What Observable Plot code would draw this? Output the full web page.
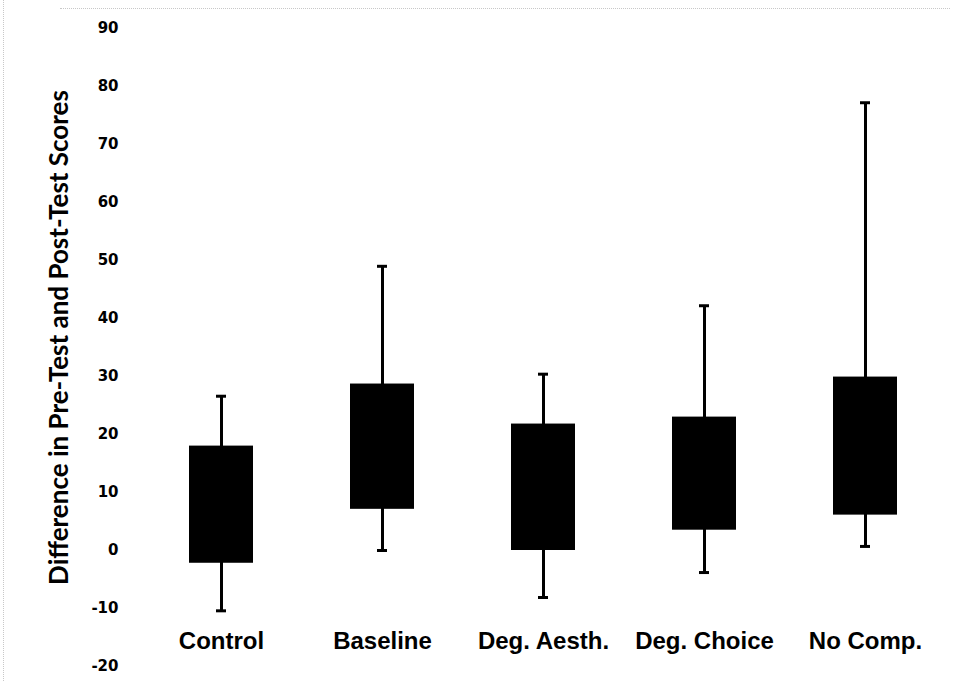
<!DOCTYPE html>
<html>
<head>
<meta charset="utf-8">
<script src="https://cdn.jsdelivr.net/npm/d3@7"></script>
<script src="https://cdn.jsdelivr.net/npm/@observablehq/plot@0.6"></script>
<style>
  html, body { margin: 0; padding: 0; background: #fff; }
  #wrap { position: relative; width: 960px; height: 681px; overflow: hidden; }
  #topline { position: absolute; left: 60px; top: 8px; width: 890px; border-top: 1px dotted #c8c8c8; }
  #leftline { position: absolute; left: 3px; top: 0; height: 681px; border-left: 1px dotted #c8c8c8; }
</style>
</head>
<body>
<div id="wrap"><div id="topline"></div><div id="leftline"></div></div>
<script>
const groups = ["Control", "Baseline", "Deg. Aesth.", "Deg. Choice", "No Comp."];
const whiskerLow = [-10.4, 0.0, -8.1, -3.8, 0.7];
const boxLow = [-2.2, 7.1, 0.0, 3.5, 6.1];
const boxHigh = [18.0, 28.7, 21.8, 23.0, 29.9];
const whiskerHigh = [26.6, 49.0, 30.4, 42.2, 77.2];
const yTicks = [-20, -10, 0, 10, 20, 30, 40, 50, 60, 70, 80, 90];
const yTitle = "Difference in Pre-Test and Post-Test Scores";

const data = groups.map((g, i) => ({
  group: g, lo: whiskerLow[i], q1: boxLow[i], q3: boxHigh[i], hi: whiskerHigh[i]
}));

const chart = Plot.plot({
  width: 960,
  height: 681,
  marginLeft: 139,
  marginRight: 12,
  marginTop: 28,
  marginBottom: 15,
  style: { background: "transparent", color: "#000" },
  x: { domain: groups, paddingInner: 0.6, paddingOuter: 0.3, align: 0.5 },
  y: { domain: [-20, 90] },
  marks: [
    Plot.axisY({
      ticks: yTicks, tickSize: 0, tickPadding: 21, tickFormat: d => String(d),
      fontSize: 15, fontWeight: "bold", fontFamily: "DejaVu Sans", label: null
    }),
    Plot.axisY({
      ticks: [], tickSize: 0, label: yTitle,
      labelAnchor: "center", labelArrow: "none", labelOffset: 90,
      fontSize: 26, fontWeight: "bold", fontFamily: "Lato"
    }),
    Plot.axisX({
      tickSize: 0, tickPadding: 0, dy: -35, label: null,
      fontSize: 24, fontWeight: "bold", fontFamily: "Liberation Sans"
    }),
    Plot.ruleX(data, { x: "group", y1: "lo", y2: "hi", stroke: "#000", strokeWidth: 3 }),
    Plot.tickY(data, { x: "group", y: "lo", stroke: "#000", strokeWidth: 3, insetLeft: 27, insetRight: 27 }),
    Plot.tickY(data, { x: "group", y: "hi", stroke: "#000", strokeWidth: 3, insetLeft: 27, insetRight: 27 }),
    Plot.barY(data, { x: "group", y1: "q1", y2: "q3", fill: "#000" })
  ]
});

// nudge the y-axis title up slightly, as in the reference
chart.querySelectorAll("[aria-label='y-axis label'] text").forEach(t => {
  t.setAttribute("transform", "translate(0,-10) " + (t.getAttribute("transform") || ""));
});

document.getElementById("wrap").prepend(chart);
chart.style.position = "absolute";
chart.style.left = "0";
chart.style.top = "0";
</script>
</body>
</html>
